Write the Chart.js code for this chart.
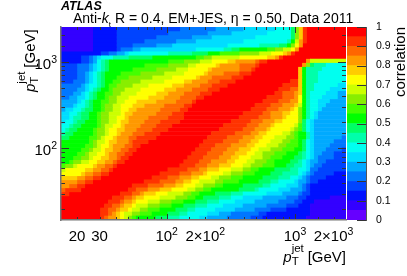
<!DOCTYPE html>
<html>
<head>
<meta charset="utf-8">
<title>correlation</title>
<script src="https://cdn.jsdelivr.net/npm/chart.js@4"></script>
<style>
body { margin: 0; background: #fff; overflow: hidden; font-family: "Liberation Sans", sans-serif; color: #000; }
#wrap { position: relative; width: 407px; height: 276px; overflow: hidden; }
canvas { position: absolute; top: 0; }
.txt { position: absolute; white-space: nowrap; line-height: 1; }
.ss { position: relative; display: inline-block; width: 16px; height: 1em; }
.ss span { position: absolute; left: 0; font-size: 11.5px; }
</style>
</head>
<body>
<div id="wrap">
  <canvas id="mainChart" width="407" height="276" style="left:0"></canvas>
  <canvas id="barChart" width="60" height="276" style="left:347px"></canvas>
  <div class="txt" style="left:61px;top:-1px;font:italic bold 12.5px 'Liberation Sans'">ATLAS</div>
  <div class="txt" style="left:73px;top:11px;font-size:14px">Anti-<i>k</i><sub style="font-size:8px;line-height:0">t</sub> R = 0.4, EM+JES, η = 0.50, Data 2011</div>
  <div class="txt" style="right:61px;top:247px;font-size:15px"><i>p</i><span class="ss"><span style="top:-4px">jet</span><span style="top:9px">T</span></span>[GeV]</div>
  <div class="txt" style="left:20px;top:27px;font-size:15px;transform-origin:0 0;transform:translate(0,65px) rotate(-90deg)"><i>p</i><span class="ss"><span style="top:-4px">jet</span><span style="top:9px">T</span></span>[GeV]</div>
  <div class="txt" style="left:392px;top:97px;font-size:15px;transform-origin:0 0;transform:rotate(-90deg)">correlation</div>
</div>
<script>
const pTMin = 15;
const pTMax = 2500;
const nCols = 72;

const xTickValues = [20, 30, 100, 200, 1000, 2000];
const xTickLabels = ['20', '30', '10^2', '2×10^2', '10^3', '2×10^3'];
const yTickValues = [100, 1000];
const yTickLabels = ['10^2', '10^3'];
const barTickValues = [0, 0.1, 0.2, 0.3, 0.4, 0.5, 0.6, 0.7, 0.8, 0.9, 1];

// one colour per 0.05 step of the correlation
const levelColors = ['#6600ff', '#3300ff', '#0011ff', '#0044ff', '#0077ff', '#00aaff', '#00ddff', '#00fff0', '#00ffaa', '#00ff66',
    '#00ff00', '#44ff00', '#88ee00', '#ccff00', '#ffff00', '#ffcc00', '#ff9900', '#ff6600', '#ff3300', '#ff0000'];

// rows from the top of the plot, each is: first column, level, first column, level...
const cellRuns = [
    [0,1, 8,2, 14,3, 30,4, 39,5, 46,6, 54,7, 58,9, 59,12, 60,15, 61,18, 62,19],
    [0,1, 8,2, 14,3, 27,4, 37,5, 43,6, 52,7, 58,9, 59,12, 60,15, 61,18, 62,19],
    [0,1, 8,2, 14,3, 24,4, 33,5, 38,6, 49,7, 58,9, 59,12, 60,15, 61,18, 62,19],
    [0,1, 8,2, 14,3, 21,4, 29,5, 34,6, 46,7, 57,8, 58,10, 59,13, 60,16, 61,18, 62,19],
    [0,1, 8,2, 14,3, 18,4, 24,5, 28,6, 42,7, 50,8, 55,9, 57,10, 58,12, 59,14, 60,16, 61,19],
    [0,1, 8,2, 14,3, 15,4, 18,5, 20,6, 34,7, 41,8, 43,9, 45,10, 52,11, 54,12, 56,13, 58,14, 59,16, 60,19],
    [0,2, 10,3, 12,4, 14,5, 16,6, 17,7, 27,8, 33,9, 37,10, 40,11, 45,12, 50,13, 53,14, 56,15, 57,16, 58,18, 59,19],
    [0,2, 5,3, 7,4, 8,5, 9,6, 10,7, 13,8, 17,9, 23,10, 34,11, 36,12, 38,13, 45,14, 52,15, 54,16, 55,18, 56,19],
    [0,2, 5,3, 7,4, 8,5, 9,7, 10,8, 11,9, 12,10, 27,11, 31,12, 35,13, 38,14, 42,15, 44,16, 49,17, 50,18, 52,19, 62,16, 63,13],
    [0,3, 4,4, 7,5, 8,6, 9,7, 10,8, 11,9, 12,10, 21,11, 27,12, 32,13, 34,14, 39,15, 40,16, 45,17, 49,18, 50,19, 61,16, 62,12, 63,9, 64,8, 67,7],
    [0,3, 4,4, 7,5, 8,6, 9,7, 10,8, 11,9, 12,10, 18,11, 24,12, 29,13, 32,14, 37,15, 38,16, 45,17, 48,18, 49,19, 60,15, 61,10, 62,8, 66,7],
    [0,3, 4,4, 6,5, 7,6, 8,7, 9,8, 10,9, 11,10, 15,11, 20,12, 26,13, 31,14, 36,15, 37,16, 41,17, 45,18, 48,19, 60,15, 61,10, 62,8, 65,7],
    [0,3, 4,4, 6,5, 7,6, 8,7, 9,8, 10,9, 11,10, 14,11, 17,12, 23,13, 28,14, 34,15, 35,16, 38,17, 43,18, 46,19, 60,15, 61,10, 62,8, 65,7],
    [0,3, 3,4, 6,5, 7,6, 8,7, 9,8, 10,9, 11,10, 13,11, 15,12, 20,13, 26,14, 31,15, 33,16, 37,17, 40,18, 44,19, 58,18, 60,15, 61,10, 62,8, 65,7],
    [0,4, 5,5, 6,6, 7,7, 9,8, 10,9, 11,10, 12,11, 14,12, 18,13, 22,14, 28,15, 31,16, 35,17, 38,18, 42,19, 56,18, 60,15, 61,10, 62,8, 64,7, 70,6],
    [0,4, 4,5, 6,6, 7,7, 8,8, 9,9, 10,10, 12,11, 13,12, 16,13, 20,14, 26,15, 29,16, 33,17, 37,18, 40,19, 55,18, 58,17, 60,15, 61,10, 62,8, 64,7, 68,6],
    [0,4, 3,5, 5,6, 6,7, 7,8, 8,9, 9,10, 11,11, 13,12, 15,13, 19,14, 24,15, 27,16, 31,17, 35,18, 38,19, 54,18, 56,17, 59,16, 60,15, 61,10, 62,8, 63,7, 67,6, 70,5],
    [0,4, 2,5, 4,6, 6,7, 7,8, 8,9, 9,10, 11,11, 12,12, 14,13, 17,14, 22,15, 26,16, 30,17, 34,18, 36,19, 52,18, 56,17, 59,16, 60,14, 61,10, 62,8, 63,7, 66,6, 70,5],
    [0,5, 4,6, 5,7, 6,8, 7,9, 8,10, 10,11, 12,12, 14,13, 16,14, 19,15, 24,16, 29,17, 33,18, 34,19, 51,18, 55,17, 58,16, 60,14, 61,10, 62,8, 63,7, 65,6, 68,5],
    [0,5, 3,6, 4,7, 6,8, 7,9, 8,10, 10,11, 11,12, 13,13, 15,14, 18,15, 21,16, 26,17, 31,18, 33,19, 49,18, 53,17, 56,16, 59,15, 60,13, 61,10, 62,8, 63,7, 65,6, 67,5],
    [0,5, 1,6, 3,7, 5,8, 6,9, 8,10, 10,11, 11,12, 13,13, 15,14, 17,15, 19,16, 25,17, 30,18, 32,19, 48,18, 52,17, 55,16, 58,15, 59,14, 60,12, 61,10, 62,8, 63,7, 65,6, 66,5],
    [0,6, 2,7, 4,8, 5,9, 7,10, 9,11, 10,12, 12,13, 15,14, 16,15, 18,16, 24,17, 28,18, 31,19, 46,18, 51,17, 53,16, 56,15, 58,14, 60,12, 61,10, 62,8, 63,7, 64,6, 65,5],
    [0,6, 2,7, 3,8, 5,9, 7,10, 9,11, 10,12, 12,13, 14,14, 16,15, 17,16, 22,17, 27,18, 31,19, 45,18, 50,17, 53,16, 56,15, 57,14, 60,12, 61,10, 62,8, 63,7, 64,6, 65,5],
    [0,6, 1,7, 3,8, 4,9, 6,10, 9,11, 10,12, 12,13, 14,14, 15,15, 17,16, 21,17, 25,18, 30,19, 43,18, 48,17, 51,16, 54,15, 56,14, 60,12, 61,9, 62,7, 63,6, 64,5],
    [0,7, 2,8, 3,9, 5,10, 9,11, 10,12, 11,13, 13,14, 15,15, 16,16, 20,17, 24,18, 28,19, 41,18, 47,17, 50,16, 53,15, 54,14, 59,13, 60,11, 61,9, 62,7, 63,6, 64,5],
    [0,7, 1,8, 2,9, 4,10, 8,11, 9,12, 11,13, 12,14, 14,15, 16,16, 19,17, 23,18, 27,19, 40,18, 46,17, 49,16, 52,15, 53,14, 58,13, 59,12, 60,11, 61,9, 62,7, 63,6, 64,5],
    [0,8, 1,9, 3,10, 8,11, 9,12, 11,13, 12,14, 14,15, 15,16, 18,17, 21,18, 25,19, 38,18, 44,17, 48,16, 50,15, 52,14, 56,13, 58,12, 59,11, 60,10, 62,8, 63,6, 64,5],
    [0,9, 2,10, 7,11, 9,12, 10,13, 11,14, 13,15, 14,16, 17,17, 19,18, 24,19, 37,18, 42,17, 46,16, 49,15, 51,14, 54,13, 57,12, 59,11, 60,10, 62,8, 63,6, 64,5, 71,4],
    [0,10, 7,11, 8,12, 9,13, 11,14, 12,15, 14,16, 17,17, 18,18, 22,19, 36,18, 41,17, 45,16, 48,15, 50,14, 53,13, 56,12, 58,11, 60,10, 61,9, 62,7, 63,6, 64,5, 69,4],
    [0,10, 6,11, 8,12, 9,13, 10,14, 12,15, 13,16, 16,17, 18,18, 20,19, 35,18, 39,17, 43,16, 47,15, 49,14, 52,13, 55,12, 57,11, 60,10, 61,9, 62,7, 63,6, 64,5, 68,4],
    [0,10, 5,11, 7,12, 8,13, 10,14, 11,15, 13,16, 15,17, 17,18, 19,19, 34,18, 38,17, 42,16, 45,15, 48,14, 50,13, 53,12, 56,11, 59,10, 61,9, 62,7, 63,6, 64,5, 67,4, 71,3],
    [0,10, 4,11, 6,12, 7,13, 9,14, 11,15, 12,16, 14,17, 16,18, 18,19, 33,18, 37,17, 41,16, 44,15, 47,14, 49,13, 51,12, 54,11, 57,10, 60,9, 61,8, 62,7, 63,6, 64,5, 66,4, 69,3],
    [0,10, 3,11, 5,12, 7,13, 8,14, 10,15, 12,16, 14,17, 15,18, 17,19, 32,18, 36,17, 40,16, 43,15, 45,14, 48,13, 51,12, 53,11, 56,10, 59,9, 61,8, 62,7, 63,6, 64,5, 65,4, 69,3],
    [0,10, 2,11, 3,12, 5,13, 7,14, 9,15, 11,16, 13,17, 14,18, 16,19, 31,18, 35,17, 38,16, 42,15, 44,14, 47,13, 49,12, 52,11, 54,10, 58,9, 60,8, 61,7, 62,6, 63,5, 65,4, 67,3],
    [0,11, 1,12, 3,13, 4,14, 8,15, 9,16, 11,17, 13,18, 14,19, 30,18, 34,17, 37,16, 40,15, 43,14, 46,13, 48,12, 51,11, 54,10, 57,9, 59,8, 61,7, 62,6, 63,5, 64,4, 66,3],
    [0,13, 1,14, 6,15, 8,16, 10,17, 12,18, 13,19, 27,18, 32,17, 35,16, 37,15, 40,14, 43,13, 46,12, 48,11, 50,10, 54,9, 58,8, 60,7, 62,6, 63,4, 65,3],
    [0,14, 5,15, 6,16, 8,17, 10,18, 12,19, 25,18, 30,17, 33,16, 36,15, 37,14, 41,13, 43,12, 46,11, 49,10, 53,9, 56,8, 60,7, 61,6, 62,5, 63,4, 64,3, 69,2],
    [0,15, 4,16, 6,17, 8,18, 10,19, 23,18, 27,17, 30,16, 33,15, 35,14, 38,13, 40,12, 43,11, 46,10, 51,9, 55,8, 58,7, 60,6, 61,5, 62,4, 63,3, 67,2],
    [0,16, 4,17, 6,18, 8,19, 21,18, 25,17, 29,16, 31,15, 33,14, 35,13, 39,12, 41,11, 45,10, 50,9, 53,8, 55,7, 59,6, 60,5, 62,4, 63,3, 65,2],
    [0,16, 2,17, 4,18, 6,19, 18,18, 22,17, 26,16, 29,15, 31,14, 34,13, 36,12, 39,11, 41,10, 46,9, 51,8, 53,7, 57,6, 60,5, 61,4, 62,3, 63,2],
    [0,17, 1,18, 5,19, 17,18, 19,17, 22,16, 25,15, 28,14, 32,13, 34,12, 36,11, 38,10, 45,9, 49,8, 50,7, 55,6, 58,5, 61,4, 62,3, 63,2],
    [0,18, 2,19, 15,18, 18,17, 20,16, 21,15, 24,14, 27,13, 31,12, 33,11, 35,10, 39,9, 43,8, 46,7, 52,6, 56,5, 60,4, 61,3, 63,2],
    [0,19, 13,18, 16,17, 18,16, 19,15, 21,14, 25,13, 29,12, 32,11, 34,10, 36,9, 40,8, 43,7, 46,6, 51,5, 57,4, 60,3, 62,2, 68,1],
    [0,19, 12,18, 15,17, 16,16, 18,15, 19,14, 22,13, 25,12, 28,11, 31,10, 34,9, 37,8, 40,7, 44,6, 49,5, 55,4, 59,3, 61,2, 64,1],
    [0,19, 11,18, 13,17, 15,16, 16,15, 18,14, 19,13, 22,12, 25,11, 28,10, 31,9, 34,8, 37,7, 41,6, 46,5, 52,4, 57,3, 60,2, 63,1],
    [0,19, 10,18, 12,17, 14,16, 15,15, 17,14, 18,13, 20,12, 22,11, 25,10, 29,9, 32,8, 34,7, 39,6, 44,5, 49,4, 53,3, 57,2, 63,1],
    [0,19, 10,18, 12,17, 13,16, 14,15, 15,14, 16,13, 18,12, 20,11, 23,10, 27,9, 30,8, 32,7, 37,6, 40,5, 43,4, 50,3, 52,2, 63,1],
    [0,19, 10,18, 11,17, 12,16, 14,15, 15,14, 16,13, 17,12, 18,11, 19,10, 24,9, 27,8, 30,7, 35,6, 37,5, 42,4, 48,3, 51,2, 62,1]
];

function colEdge(i) {
    return pTMin * Math.pow(pTMax / pTMin, i / nCols);
}

function rowCentre(r) {
    return pTMax * Math.pow(pTMin / pTMax, (r + 0.5) / cellRuns.length);
}

function buildCellDatasets() {
    const byLevel = levelColors.map(() => []);
    cellRuns.forEach((runs, r) => {
        for (let i = 0; i < runs.length; i += 2) {
            const end = i + 2 < runs.length ? runs[i + 2] : nCols;
            byLevel[runs[i + 1]].push({ y: rowCentre(r), x: [colEdge(runs[i]), colEdge(end)] });
        }
    });
    return byLevel.map((data, level) => ({
        data: data,
        backgroundColor: levelColors[level],
        grouped: false,
        barPercentage: 1,
        categoryPercentage: 1
    }));
}

// tick label with a raised exponent, '10^3' -> 10 and a small 3
function drawTickLabel(ctx, label, px, baseline, align) {
    const [base, power] = label.split('^');
    ctx.font = '15px "Liberation Sans"';
    const baseWidth = ctx.measureText(base).width;
    ctx.font = '10.5px "Liberation Sans"';
    const powerWidth = power ? ctx.measureText(power).width : 0;
    const left = align === 'right' ? px - baseWidth - powerWidth : px - (baseWidth + powerWidth) / 2;
    ctx.font = '15px "Liberation Sans"';
    ctx.fillText(base, left, baseline);
    if (power) {
        ctx.font = '10.5px "Liberation Sans"';
        ctx.fillText(power, left + baseWidth, baseline - 6);
    }
}

// ROOT style ticks, inside the frame on all four sides, and the axis numbers
const frameTicks = {
    id: 'frameTicks',
    afterDatasetsDraw(chart) {
        const { ctx, chartArea: area, scales } = chart;
        ctx.save();
        ctx.strokeStyle = '#333';
        ctx.lineWidth = 1;
        ctx.beginPath();
        scales.x.ticks.forEach(t => {
            if (t.value <= pTMin || t.value >= pTMax) return;
            const px = Math.round(scales.x.getPixelForValue(t.value)) + 0.5;
            const len = [100, 1000].includes(t.value) ? 6 : 3;
            ctx.moveTo(px, area.bottom); ctx.lineTo(px, area.bottom - len);
            ctx.moveTo(px, area.top); ctx.lineTo(px, area.top + len);
        });
        scales.y.ticks.forEach(t => {
            if (t.value <= pTMin || t.value >= pTMax) return;
            const py = Math.round(scales.y.getPixelForValue(t.value)) + 0.5;
            const len = [100, 1000].includes(t.value) ? 8 : 4;
            ctx.moveTo(area.left, py); ctx.lineTo(area.left + len, py);
            ctx.moveTo(area.right, py); ctx.lineTo(area.right - len, py);
        });
        ctx.stroke();

        ctx.fillStyle = '#000';
        ctx.textAlign = 'left';
        ctx.textBaseline = 'alphabetic';
        xTickValues.forEach((v, i) => {
            drawTickLabel(ctx, xTickLabels[i], scales.x.getPixelForValue(v), area.bottom + 21, 'center');
        });
        yTickValues.forEach((v, i) => {
            drawTickLabel(ctx, yTickLabels[i], area.left - 4, scales.y.getPixelForValue(v) + 7, 'right');
        });
        ctx.restore();
    }
};

const barTicks = {
    id: 'barTicks',
    afterDatasetsDraw(chart) {
        const { ctx, chartArea: area, scales } = chart;
        ctx.save();
        ctx.strokeStyle = '#333';
        ctx.beginPath();
        barTickValues.forEach(v => {
            const py = Math.round(scales.y.getPixelForValue(v)) + 0.5;
            ctx.moveTo(area.right, py);
            ctx.lineTo(area.right - 9, py);
        });
        ctx.stroke();
        ctx.restore();
    }
};

new Chart(document.getElementById('mainChart'), {
    type: 'bar',
    data: { datasets: buildCellDatasets() },
    plugins: [frameTicks],
    options: {
        indexAxis: 'y',
        responsive: false,
        animation: false,
        layout: { padding: { top: 27, right: 61, left: 0, bottom: 0 } },
        plugins: { legend: { display: false }, tooltip: { enabled: false } },
        scales: {
            x: {
                type: 'logarithmic',
                min: pTMin,
                max: pTMax,
                afterFit(scale) { scale.height = 56; },
                grid: { display: false },
                border: { color: '#777', width: 1.5, z: 1 },
                ticks: { autoSkip: false, display: false }
            },
            y: {
                type: 'logarithmic',
                min: pTMin,
                max: pTMax,
                afterFit(scale) { scale.width = 61; },
                grid: { display: false },
                border: { color: '#777', width: 1.5, z: 1 },
                ticks: { autoSkip: false, display: false }
            }
        }
    }
});

new Chart(document.getElementById('barChart'), {
    type: 'bar',
    data: {
        labels: [''],
        datasets: levelColors.map((color, level) => ({
            data: [[level / levelColors.length, (level + 1) / levelColors.length]],
            backgroundColor: color,
            grouped: false,
            barPercentage: 1,
            categoryPercentage: 1
        }))
    },
    plugins: [barTicks],
    options: {
        responsive: false,
        animation: false,
        layout: { padding: { top: 27, bottom: 56, left: 0, right: 0 } },
        plugins: { legend: { display: false }, tooltip: { enabled: false } },
        scales: {
            x: { display: false },
            y: {
                position: 'right',
                min: 0,
                max: 1,
                afterFit(scale) { scale.width = 41; },
                grid: { display: false },
                border: { color: '#555', width: 1, z: 1 },
                ticks: {
                    stepSize: 0.1,
                    padding: 2,
                    color: '#000',
                    font: { family: 'Liberation Sans', size: 10.5 },
                    callback: value => String(Math.round(value * 10) / 10)
                }
            }
        }
    }
});
</script>
</body>
</html>
